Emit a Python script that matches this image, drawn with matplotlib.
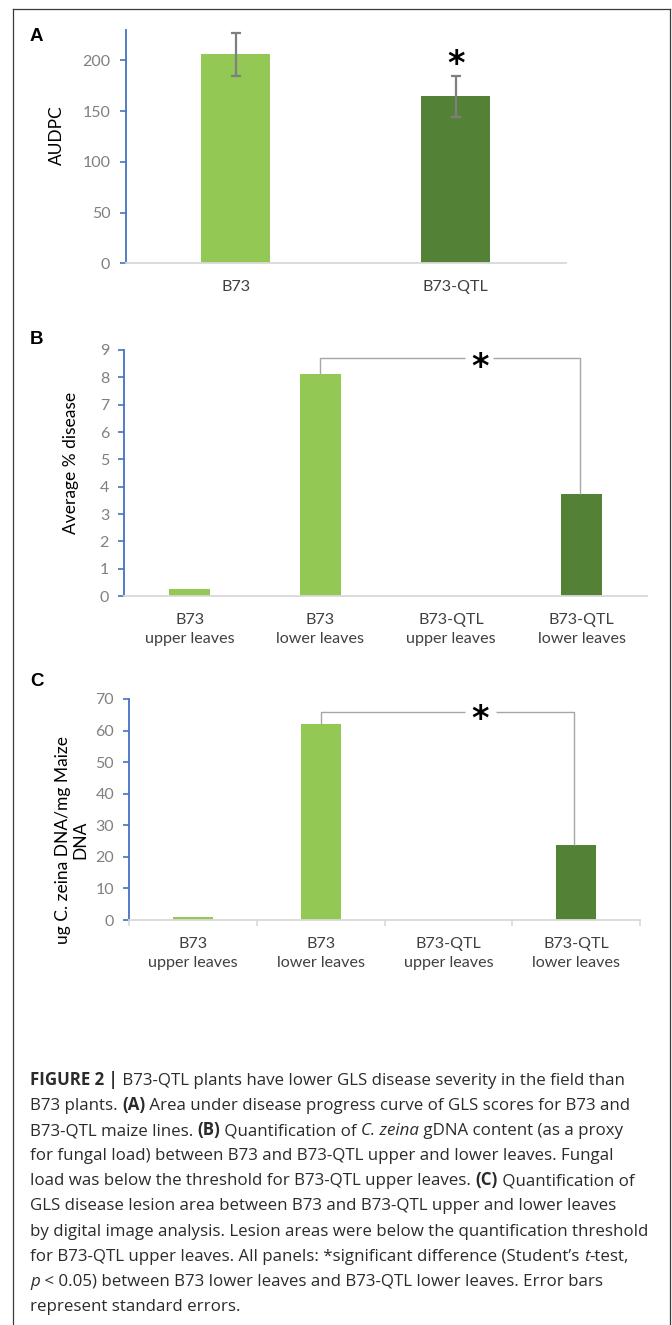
import matplotlib.pyplot as plt
from matplotlib.lines import Line2D

W, H = 672, 1325

# panel A data
a_labels = ["B73", "B73-QTL"]
a_values = [206, 164.5]
a_errors = [21, 20.5]

# panels B and C data
leaf_labels = ["B73\nupper leaves", "B73\nlower leaves",
               "B73-QTL\nupper leaves", "B73-QTL\nlower leaves"]
b_values = [0.26, 8.13, 0, 3.74]
c_values = [0.95, 62.0, 0, 23.8]

light_green = "#92C853"
dark_green = "#538135"
axis_blue = "#4472C4"
tick_gray = "#808080"
label_dark = "#404040"
bracket_gray = "#A6A6A6"

UI_FONT = ["Lato", "DejaVu Sans"]
CAP_FONT = ["Open Sans", "DejaVu Sans"]
LETTER_FONT = ["Liberation Sans", "DejaVu Sans"]

fig = plt.figure(figsize=(W / 100, H / 100), dpi=100)


def add_axes_px(left, top, right, bottom):
    return fig.add_axes([left / W, 1 - bottom / H, (right - left) / W, (bottom - top) / H])


def style_axes(ax, ymax, yticks, xlabels, xticks_marks=False):
    ax.set_ylim(0, ymax)
    ax.set_xlim(-0.5, len(xlabels) - 0.5)
    for s in ["top", "right"]:
        ax.spines[s].set_visible(False)
    ax.spines["left"].set_color(axis_blue)
    ax.spines["left"].set_linewidth(1.3)
    ax.spines["bottom"].set_color("#D9D9D9")
    ax.spines["bottom"].set_linewidth(1.3)
    ax.set_yticks(yticks)
    ax.tick_params(axis="y", direction="out", length=4, width=1.2, color=axis_blue,
                   labelcolor=tick_gray, labelsize=11.5, pad=7)
    ax.set_xticks(range(len(xlabels)))
    ax.set_xticklabels(xlabels, linespacing=1.5)
    ax.tick_params(axis="x", length=0, labelcolor=label_dark, labelsize=11.6, pad=12)
    for lab in ax.get_xticklabels() + ax.get_yticklabels():
        lab.set_family(UI_FONT)
    if xticks_marks:
        ax.set_xticks([i + 0.5 for i in range(-1, len(xlabels))], minor=True)
        ax.tick_params(axis="x", which="minor", direction="out", length=4,
                       width=1.2, color="#D9D9D9")


def bracket(ax, x0, x1, y0, y1, ytop, gap, star_x, star_y):
    kw = dict(color=bracket_gray, lw=1.0, clip_on=False, solid_capstyle="butt")
    ax.plot([x0, x0, gap[0]], [y0, ytop, ytop], **kw)
    ax.plot([gap[1], x1, x1], [ytop, ytop, y1], **kw)
    ax.text(star_x, star_y, "*", ha="center", va="center", fontsize=24,
            fontweight="bold", color="black", clip_on=False)


# ---- Panel A ----
axA = add_axes_px(125.6, 30, 565.7, 263.3)
axA.bar(range(len(a_values)), a_values, width=0.314,
        color=[light_green, dark_green], zorder=2)
axA.errorbar(range(len(a_values)), a_values, yerr=a_errors, fmt="none",
             ecolor="#7F7F7F", elinewidth=1.6, capsize=3.5, capthick=1.6, zorder=3)
style_axes(axA, 230, [0, 50, 100, 150, 200], a_labels)
axA.text(1, 196, "*", ha="center", va="center", fontsize=24, fontweight="bold")

# ---- Panel B ----
axB = add_axes_px(124.3, 350, 647, 596)
axB.bar(range(len(b_values)), b_values, width=0.31,
        color=[light_green, light_green, light_green, dark_green], zorder=2)
style_axes(axB, 9, range(0, 10), leaf_labels)
bracket(axB, 1, 2.99, b_values[1], b_values[3], 8.72, (2.11, 2.32), 2.22, 8.37)

# ---- Panel C ----
axC = add_axes_px(129.4, 699, 640, 920)
axC.bar(range(len(c_values)), c_values, width=0.31,
        color=[light_green, light_green, light_green, dark_green], zorder=2)
style_axes(axC, 70, range(0, 80, 10), leaf_labels, xticks_marks=True)
bracket(axC, 1, 2.98, c_values[1], c_values[3], 65.8, (2.13, 2.37), 2.25, 63.4)

# y axis titles
fig.text(57 / W, 1 - 135 / H, "AUDPC", rotation=90, ha="center", va="center",
         fontsize=12.5, color="black", family=UI_FONT)
fig.text(70.7 / W, 1 - 463 / H, "Average % disease", rotation=90, ha="center",
         va="center", fontsize=12.5, color="black", family=UI_FONT)
fig.text(71.8 / W, 1 - 840 / H, "ug C. zeina DNA/mg Maize\nDNA", rotation=90,
         ha="center", va="center", fontsize=12.5, color="black", family=UI_FONT,
         linespacing=1.05, multialignment="center")

# panel letters
for letter, y in [("A", 36.5), ("B", 340), ("C", 681.5)]:
    fig.text(30 / W, 1 - y / H, letter, ha="left", va="center", fontsize=13.5,
             fontweight="bold", family=LETTER_FONT)

# frame around the figure panel
for xs, ys in [([13, 13], [9, H + 5]), ([13, 670], [9, 9]), ([670, 670], [9, H + 5])]:
    fig.add_artist(Line2D([x / W for x in xs], [1 - y / H for y in ys],
                          transform=fig.transFigure, color="#3A3A3A", lw=0.9))

# ---- Caption ----
caption = [
    [("FIGURE 2 |", "b"), (" B73-QTL plants have lower GLS disease severity in the field than", "")],
    [("B73 plants. ", ""), ("(A)", "b"), (" Area under disease progress curve of GLS scores for B73 and", "")],
    [("B73-QTL maize lines. ", ""), ("(B)", "b"), (" Quantification of ", ""), ("C. zeina", "i"),
     (" gDNA content (as a proxy", "")],
    [("for fungal load) between B73 and B73-QTL upper and lower leaves. Fungal", "")],
    [("load was below the threshold for B73-QTL upper leaves. ", ""), ("(C)", "b"),
     (" Quantification of", "")],
    [("GLS disease lesion area between B73 and B73-QTL upper and lower leaves", "")],
    [("by digital image analysis. Lesion areas were below the quantification threshold", "")],
    [("for B73-QTL upper leaves. All panels: *significant difference (Student\u2019s ", ""),
     ("t", "i"), ("-test,", "")],
    [("p", "i"), (" < 0.05) between B73 lower leaves and B73-QTL lower leaves. Error bars", "")],
    [("represent standard errors.", "")],
]

renderer = fig.canvas.get_renderer()
cap_size = 12.2
cap_color = "#2B2B2B"


def seg_props(style):
    return dict(fontsize=cap_size, family=CAP_FONT, color=cap_color,
                fontweight="bold" if style == "b" else "normal",
                fontstyle="italic" if style == "i" else "normal")


def advance(text, style):
    # measure width including spaces by bracketing with a bar
    t1 = fig.text(0, 0, "|" + text + "|", **seg_props(style))
    t2 = fig.text(0, 0, "||", **seg_props(style))
    w = t1.get_window_extent(renderer).width - t2.get_window_extent(renderer).width
    t1.remove()
    t2.remove()
    return w


y0 = 1085
for i, line in enumerate(caption):
    x = 30.0
    y = y0 + i * 25.1
    for text, style in line:
        fig.text(x / W, 1 - y / H, text, ha="left", va="baseline", **seg_props(style))
        x += advance(text, style)

fig.savefig("out.png", dpi=100)
